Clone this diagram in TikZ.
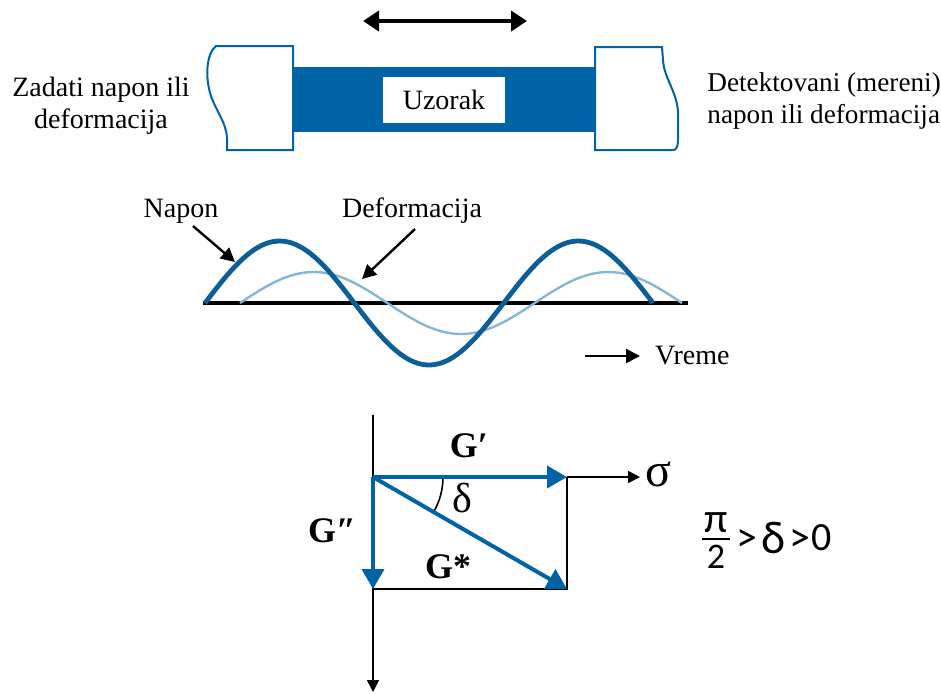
\documentclass[tikz,border=0pt]{standalone}
\usepackage{fontspec}
\setmainfont{Liberation Serif}
\newfontfamily\calfont{Carlito}
\usetikzlibrary{arrows.meta}
\definecolor{uzblue}{RGB}{0,99,166}
\definecolor{napblue}{RGB}{12,94,150}
\definecolor{defblue}{RGB}{134,182,214}

\begin{document}
\begin{tikzpicture}[x=0.5pt,y=-0.5pt,
  lbl/.style={font=\fontsize{14}{16}\selectfont},
  glbl/.style={font=\fontsize{18}{20}\selectfont\bfseries},
  cal/.style={font=\calfont\fontsize{#1}{#1}\selectfont,inner sep=1pt},
  grip/.style={draw=uzblue,line width=1pt,fill=white},
  vec/.style={uzblue,line width=2pt,-{Triangle[length=10pt,width=11pt]}},
  callout/.style={line width=1.2pt,-{Triangle[length=7pt,width=7pt]}},
  ax/.style={line width=0.8pt}]
  \useasboundingbox (0,0) rectangle (941,693);
  % uzorak u cekustima
  \coordinate (pushL) at (363,21);
  \coordinate (pushR) at (527,21);
  \draw[line width=2pt,{Triangle[length=8pt,width=10pt]}-{Triangle[length=8pt,width=10pt]}] (pushL) -- (pushR);
  \fill[uzblue] (290,67) rectangle (598,132);
  \draw[grip] (293,46) -- (216,46) .. controls (206,54) and (205,78) .. (211,96)
    .. controls (217,113) and (226,122) .. (227,138) -- (227,150) -- (293,150) -- cycle;
  \draw[grip] (595,47) -- (662,47) -- (663,60) .. controls (664,78) and (677,92) .. (678,112)
    -- (678,140) .. controls (678,147) and (676,150) .. (673,150) -- (595,150) -- cycle;
  \node[lbl,fill=white,minimum width=61pt,minimum height=23pt] (uzorak) at (444,100) {Uzorak};
  \node[lbl,align=center] (zadati) at (101,106) {Zadati napon ili\\deformacija};
  \node[lbl,font=\fontsize{13.6}{16}\selectfont,align=left,anchor=west,inner sep=0pt] (detekt) at (707,101) {Detektovani (mereni)\\napon ili deformacija};

  % napon i deformacija u vremenu
  \coordinate (t0) at (203,303);
  \coordinate (t1) at (688,303);
  \draw[line width=2pt] (t0) -- (t1);
  \draw[defblue,line width=1.2pt] plot[domain=240:682,samples=120] (\x,{303-31*sin((\x-240)/294.67*360)});
  \draw[napblue,line width=2.4pt] plot[domain=205:653,samples=120] (\x,{303-62*sin((\x-205)/298.67*360)});
  \node[lbl] (napon) at (181,211) {Napon};
  \node[lbl] (deform) at (412,211) {Deformacija};
  \coordinate (napS) at (193,226);
  \coordinate (napT) at (235,262);
  \coordinate (defS) at (415,229);
  \coordinate (defT) at (362,279);
  \draw[callout] (napS) -- (napT);
  \draw[callout] (defS) -- (defT);
  \coordinate (vrS) at (585,356);
  \coordinate (vrT) at (640,356);
  \draw[callout] (vrS) -- (vrT);
  \node[lbl,anchor=west] (vreme) at (648,356) {Vreme};

  % G*, G' i G''
  \coordinate (O) at (373,477);
  \coordinate (Gp) at (567,477);
  \coordinate (Gpp) at (373,589);
  \coordinate (Gs) at (567,589);
  \coordinate (yTop) at (373,415);
  \coordinate (yBot) at (373,692);
  \coordinate (sig) at (640,477);
  \draw[ax] (yTop) -- (Gpp);
  \draw[ax,-{Triangle[length=6pt,width=6pt]}] (Gpp) -- (yBot);
  \draw[ax] (Gpp) -- (Gs) -- (Gp);
  \draw[ax,-{Triangle[length=6pt,width=6pt]}] (Gp) -- (sig);
  \draw[ax] (O) ++(70,0) arc[start angle=0,end angle=30,radius=70];
  \draw[vec] (O) -- (Gp);
  \draw[vec] (O) -- (Gpp);
  \draw[vec] (O) -- (Gs);
  \node[glbl] (lGp) at (469,446) {G′};
  \node[glbl] (lGpp) at (332,531) {G″};
  \node[glbl] (lGs) at (448,567) {G*};
  \node[font=\fontsize{21}{24}\selectfont] (lDelta) at (462,498) {δ};
  \node[font=\fontsize{24}{26}\selectfont] (lSig) at (658,474) {σ};

  % uslov za delta
  \node[cal=21] (pi) at (716,523) {π};
  \node[cal=18] (two) at (716,557) {2};
  \coordinate (barL) at (702,539);
  \coordinate (barR) at (730,539);
  \draw[line width=0.8pt] (barL) -- (barR);
  \node[cal=21] (gt1) at (747,540) {>};
  \node[cal=23] (dl) at (774,538) {δ};
  \node[cal=21] (gt2) at (800,540) {>};
  \node[cal=20] (zero) at (822,538) {0};
\end{tikzpicture}
\end{document}
